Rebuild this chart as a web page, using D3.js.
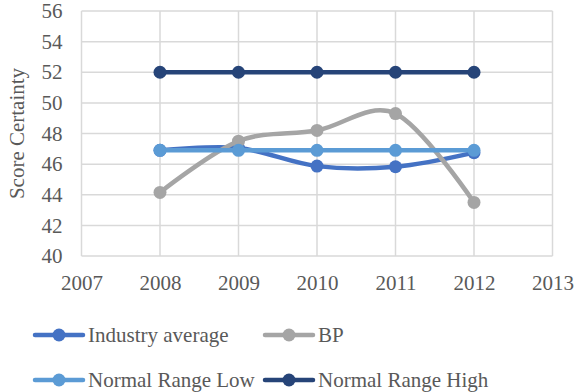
<!DOCTYPE html>
<html>
<head>
<meta charset="utf-8">
<script src="https://cdn.jsdelivr.net/npm/d3@7"></script>
<style>
  html, body { margin: 0; padding: 0; background: #fff; }
  svg { display: block; }
  .lbl { font-family: "Liberation Serif", "DejaVu Serif", serif; font-size: 21px; fill: #595959; }
</style>
</head>
<body>
<svg id="chart" width="576" height="392"></svg>
<script>
// Yearly certainty scores
const years = [2008, 2009, 2010, 2011, 2012];
const industryAverage = [46.9, 47.05, 45.87, 45.83, 46.75];
const bp = [44.15, 47.5, 48.2, 49.3, 43.5];
const normalRangeLow = [46.9, 46.9, 46.9, 46.9, 46.9];
const normalRangeHigh = [52, 52, 52, 52, 52];

const xTicks = [2007, 2008, 2009, 2010, 2011, 2012, 2013];
const yTicks = [40, 42, 44, 46, 48, 50, 52, 54, 56];

const seriesNames = ["Industry average", "BP", "Normal Range Low", "Normal Range High"];
const seriesColors = ["#4472c4", "#a5a5a5", "#5b9bd5", "#264478"];
const seriesValues = [industryAverage, bp, normalRangeLow, normalRangeHigh];

const svg = d3.select("#chart");
const gridColor = "#d9d9d9";

const plotLeft = 81.5, plotRight = 552.5, plotTop = 11, plotBottom = 256;

const x = d3.scaleLinear().domain([2007, 2013]).range([plotLeft, plotRight]);
const y = d3.scaleLinear().domain([40, 56]).range([plotBottom, plotTop]);

// Gridlines
const grid = svg.append("g");
grid.selectAll("line.h").data(yTicks).join("line")
  .attr("class", "h")
  .attr("x1", plotLeft).attr("x2", plotRight)
  .attr("y1", d => y(d)).attr("y2", d => y(d))
  .attr("stroke", gridColor).attr("stroke-width", 1.5);
grid.selectAll("line.v").data(xTicks).join("line")
  .attr("class", "v")
  .attr("y1", plotTop).attr("y2", plotBottom)
  .attr("x1", d => x(d)).attr("x2", d => x(d))
  .attr("stroke", gridColor).attr("stroke-width", 1.5);

// Axes (labels only; lines come from the grid)
const yAxis = svg.append("g")
  .attr("transform", `translate(${plotLeft},0)`)
  .call(d3.axisLeft(y).tickValues(yTicks).tickSize(0).tickPadding(19));
const xAxis = svg.append("g")
  .attr("transform", `translate(0,${plotBottom})`)
  .call(d3.axisBottom(x).tickValues(xTicks).tickSize(0).tickPadding(19).tickFormat(d3.format("d")));
[yAxis, xAxis].forEach(a => {
  a.attr("font-family", null).attr("font-size", null);
  a.select(".domain").remove();
  a.selectAll("text").attr("class", "lbl").attr("fill", null);
});

// Axis title
svg.append("text")
  .attr("class", "lbl")
  .attr("transform", `translate(24,${(plotTop + plotBottom) / 2}) rotate(-90)`)
  .attr("text-anchor", "middle")
  .text("Score Certainty");

// Series: smoothed lines with round markers
const line = d3.line()
  .x((d, i) => x(years[i]))
  .y(d => y(d))
  .curve(d3.curveCatmullRom.alpha(0));

seriesValues.forEach((vals, s) => {
  const g = svg.append("g");
  g.append("path").datum(vals)
    .attr("d", line)
    .attr("fill", "none")
    .attr("stroke", seriesColors[s])
    .attr("stroke-width", 4.5)
    .attr("stroke-linecap", "round");
  g.selectAll("circle").data(vals).join("circle")
    .attr("cx", (d, i) => x(years[i]))
    .attr("cy", d => y(d))
    .attr("r", 6.5)
    .attr("fill", seriesColors[s]);
});

// Legend
const legendPos = [[35, 335], [265, 335], [35, 380], [265, 380]];
seriesNames.forEach((name, s) => {
  const [lx, ly] = legendPos[s];
  const g = svg.append("g").attr("transform", `translate(${lx},${ly})`);
  g.append("line").attr("x1", 0).attr("x2", 48).attr("y1", 0).attr("y2", 0)
    .attr("stroke", seriesColors[s]).attr("stroke-width", 4.5).attr("stroke-linecap", "round");
  g.append("circle").attr("cx", 24).attr("cy", 0).attr("r", 6.5).attr("fill", seriesColors[s]);
  g.append("text").attr("class", "lbl").attr("x", 53).attr("y", 0).attr("dy", "0.35em")
    .text(name);
});
</script>
</body>
</html>
